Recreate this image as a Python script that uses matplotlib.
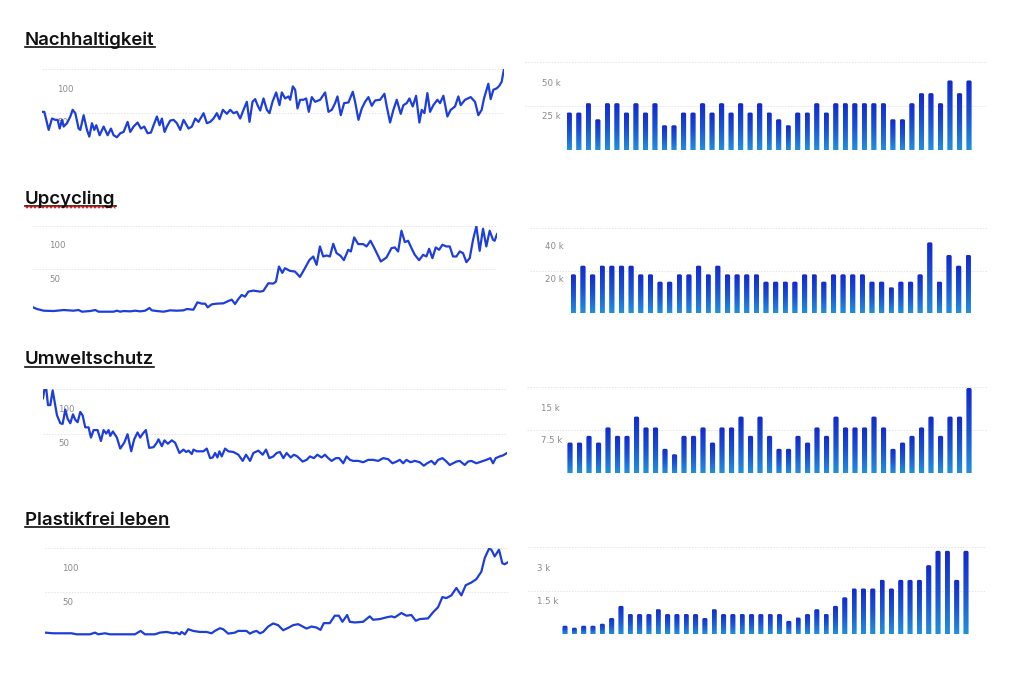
import matplotlib
matplotlib.use("Agg")
import matplotlib.pyplot as plt
import numpy as np
from matplotlib.colors import LinearSegmentedColormap
from matplotlib.lines import Line2D
from matplotlib.patches import FancyBboxPatch

W, H = 1024, 686

titles = ["Nachhaltigkeit", "Upcycling", "Umweltschutz", "Plastikfrei leben"]

# search interest over time (x = days since start of the window)
nach_t = [0, 7, 20, 30, 40, 47, 53, 60, 65, 75,
          85, 92, 100, 110, 115, 125, 135, 142, 150, 157,
          163, 173, 185, 197, 207, 215, 225, 235, 245, 257,
          265, 275, 287, 297, 307, 317, 327, 335, 345, 353,
          360, 368, 375, 385, 395, 405, 415, 425, 440, 450,
          460, 470, 485, 495, 505, 515, 525, 533, 543, 555,
          565, 575, 585, 595, 605, 615, 623, 632, 640, 647,
          655, 665, 675, 683, 692, 703, 713, 720, 730, 740,
          745, 753, 760, 767, 775, 785, 793, 801, 810, 820,
          835, 850, 860, 870, 880, 887, 897, 907, 920, 933,
          940, 950, 960, 970, 980, 990, 1000, 1015, 1028, 1035,
          1045, 1055, 1065, 1077, 1085, 1095, 1103, 1113, 1123, 1133,
          1140, 1148, 1157, 1165, 1175, 1187, 1195, 1205, 1217, 1227,
          1240, 1250, 1257, 1270, 1287, 1300, 1310, 1320, 1327, 1340,
          1347, 1355, 1365, 1373, 1380, 1387]
nach_v = [66, 66, 39, 56, 54, 54, 41, 54, 44, 49,
          59, 69, 64, 41, 39, 61, 39, 29, 49, 39,
          46, 31, 44, 31, 41, 31, 28, 34, 36, 51,
          36, 44, 50, 41, 44, 34, 35, 46, 59, 46,
          56, 36, 44, 53, 54, 49, 39, 54, 41, 44,
          56, 51, 64, 49, 51, 56, 64, 55, 69, 63,
          69, 64, 66, 56, 69, 81, 51, 81, 85, 76,
          68, 86, 69, 64, 81, 95, 76, 95, 86, 89,
          84, 104, 99, 71, 84, 84, 86, 66, 88, 81,
          84, 95, 66, 69, 79, 89, 61, 79, 80, 96,
          81, 54, 71, 81, 88, 75, 83, 84, 93, 74,
          50, 69, 84, 63, 76, 79, 86, 74, 90, 50,
          69, 64, 94, 66, 76, 84, 79, 90, 59, 69,
          74, 89, 76, 84, 88, 81, 61, 69, 86, 108,
          85, 99, 101, 105, 111, 130]

upc_t = [0, 12, 32, 62, 92, 122, 137, 147, 172, 187,
         197, 242, 252, 262, 272, 292, 307, 322, 337, 350,
         357, 372, 392, 412, 432, 452, 462, 482, 494, 507,
         517, 525, 537, 552, 572, 587, 597, 607, 617, 627,
         637, 647, 662, 682, 692, 707, 722, 730, 739, 749,
         757, 772, 787, 802, 817, 830, 842, 852, 862, 872,
         882, 892, 902, 912, 924, 934, 947, 955, 965, 977,
         992, 1002, 1014, 1027, 1045, 1062, 1077, 1087, 1097, 1107,
         1117, 1127, 1137, 1147, 1160, 1172, 1182, 1190, 1200, 1210,
         1220, 1230, 1242, 1252, 1262, 1272, 1282, 1292, 1302, 1312,
         1322, 1332, 1342, 1352, 1362, 1372, 1382, 1387, 1394]
upc_v = [8, 5.5, 3, 2.5, 4, 3, 4, 1.5, 2.5, 4,
         1.5, 1.5, 3, 1.5, 2.5, 2, 3, 2, 3, 7,
         3.5, 2.5, 1.5, 3.5, 3, 3.5, 5.5, 4.5, 15.5, 13.5,
         13.5, 8, 12.5, 13.5, 14, 17.5, 19.5, 13, 20.5, 26.5,
         24, 31.5, 33, 31.5, 32.5, 44, 43.5, 46.5, 69, 59.5,
         66.5, 62.5, 61.5, 53.5, 66.5, 78.5, 84, 71.5, 99, 84,
         85.5, 84, 103, 89, 85, 78.5, 94, 91.5, 112.5, 102.5,
         102.5, 99, 107.5, 95, 76.5, 82.5, 96.5, 97.5, 91.5, 122.5,
         105.5, 107.5, 96.5, 86.5, 78.5, 86.5, 84, 95.5, 81.5, 97.5,
         94, 101.5, 99, 99, 84, 84, 91.5, 89, 75.5, 81.5,
         109, 129, 92.5, 125.5, 99, 122.5, 109, 107.5, 117.5]

umw_t = [0, 5, 10, 15, 22, 29, 35, 42, 52, 59,
         67, 74, 82, 90, 97, 104, 112, 119, 127, 137,
         144, 152, 164, 174, 182, 190, 197, 202, 210, 222,
         232, 244, 254, 265, 274, 284, 292, 300, 309, 319,
         332, 342, 347, 357, 365, 375, 387, 397, 410, 422,
         430, 437, 447, 452, 462, 482, 492, 502, 510, 517,
         524, 530, 537, 547, 557, 572, 587, 600, 610, 622,
         632, 647, 660, 670, 680, 692, 702, 712, 722, 732,
         744, 754, 764, 780, 792, 802, 814, 824, 837, 847,
         857, 867, 880, 890, 902, 912, 922, 932, 947, 962,
         977, 992, 1007, 1022, 1037, 1050, 1062, 1072, 1082, 1092,
         1104, 1117, 1132, 1144, 1154, 1167, 1177, 1187, 1200, 1210,
         1222, 1232, 1242, 1252, 1267, 1277, 1287, 1302, 1317, 1332,
         1344, 1352, 1360, 1372, 1382, 1394]
umw_v = [116.5, 131.5, 129, 106.5, 106.5, 128, 111.5, 91.5, 80, 79,
         100, 86.5, 80, 93, 85, 81.5, 96.5, 91.5, 74, 74,
         59, 70, 70, 54, 70, 65, 70, 61.5, 68, 59,
         43, 51.5, 64, 39, 56.5, 66.5, 59, 65, 70, 44,
         45, 51.5, 56.5, 46.5, 55, 50, 55, 51.5, 36.5, 41.5,
         38, 40, 35, 41.5, 39, 39, 43, 29, 30, 36.5,
         30, 39, 31.5, 43, 39, 38, 34, 25, 34, 25,
         36.5, 40, 34, 41.5, 29, 31.5, 36.5, 38, 29, 36.5,
         30, 34, 31.5, 24, 26.5, 31.5, 29, 34, 30, 34,
         29, 25, 29, 29, 21.5, 31.5, 26.5, 25, 25, 23,
         26.5, 26.5, 25, 29, 27.5, 21.5, 24, 26.5, 21.5, 26.5,
         23, 25, 23, 18, 21.5, 25, 20, 26.5, 29, 25,
         19, 21.5, 24, 25, 19, 24, 25, 21.5, 24, 26.5,
         29, 21.5, 29, 31.5, 33, 36.5]

plast_t = [0, 25, 80, 95, 135, 150, 160, 180, 195, 270,
           287, 300, 330, 345, 365, 385, 395, 405, 410, 420,
           430, 445, 465, 485, 500, 510, 525, 535, 550, 570,
           580, 605, 615, 625, 635, 645, 655, 670, 685, 700,
           715, 730, 745, 760, 770, 785, 800, 815, 827, 837,
           855, 870, 882, 893, 907, 915, 930, 955, 975, 985,
           1005, 1025, 1040, 1050, 1070, 1085, 1100, 1113, 1125, 1150,
           1165, 1180, 1193, 1205, 1220, 1235, 1250, 1263, 1280, 1295,
           1310, 1320, 1333, 1340, 1350, 1363, 1373, 1380, 1390]
plast_v = [5, 4, 4, 2.5, 2.5, 5, 2.5, 4, 2.5, 2.5,
           7.5, 2.5, 2.5, 5, 6, 4, 5, 2.5, 6, 2.5,
           10, 7.5, 6, 6, 4, 7.5, 11.5, 10, 3.5, 5,
           7.5, 7.5, 3.5, 6, 7.5, 4, 6, 14, 18.5, 16,
           8.5, 12, 16, 17.5, 15, 11, 14, 12.5, 9, 19,
           19, 30, 30, 21, 31, 21, 20, 21, 29, 24,
           25, 27.5, 29, 27.5, 34, 30, 31, 22.5, 25, 26,
           35, 42.5, 57.5, 56, 60, 71, 60, 75, 79, 84,
           95, 115, 129, 127.5, 117.5, 127.5, 107.5, 106, 109]

line_ticks = [100, 50]
line_top = 130

# monthly search volume, in thousands
nach_bars = [28, 28, 35, 23, 35, 35, 28, 35, 28, 35,
             18.5, 18.5, 28, 28, 35, 28, 35, 28, 35, 28,
             35, 28, 23, 18.5, 28, 28, 35, 28, 35, 35,
             35, 35, 35, 35, 23, 23, 35, 42.5, 42.5, 35,
             52, 42.5, 52]
upc_bars = [23.4, 28.6, 23.4, 28.6, 28.6, 28.6, 28.6, 23.4, 23.4, 19,
            19, 23.4, 23.4, 28.6, 23.4, 28.6, 23.4, 23.4, 23.4, 23.4,
            19, 19, 19, 19, 23.4, 23.4, 19, 23.4, 23.4, 23.4,
            23.4, 19, 19, 15.6, 19, 19, 23.4, 42.6, 19, 35,
            28.6, 35]
umw_bars = [7.1, 7.1, 8.65, 7.1, 10.6, 8.65, 8.65, 13.1, 10.6, 10.6,
            5.65, 4.4, 8.65, 8.65, 10.6, 7.1, 10.6, 10.6, 13.1, 8.65,
            13.1, 8.65, 5.65, 5.65, 8.65, 7.1, 10.6, 8.65, 13.1, 10.6,
            10.6, 10.6, 13.1, 10.6, 5.65, 7.1, 8.65, 10.6, 13.1, 8.65,
            13.1, 13.1, 19.7]
plast_bars = [0.39, 0.30, 0.39, 0.39, 0.48, 0.74, 1.29, 0.92, 0.92, 0.92,
              1.14, 0.92, 0.92, 0.92, 0.92, 0.74, 1.14, 0.92, 0.92, 0.92,
              0.92, 0.92, 0.92, 0.92, 0.61, 0.76, 0.92, 1.14, 0.92, 1.29,
              1.68, 2.08, 2.08, 2.08, 2.47, 2.08, 2.47, 2.47, 2.47, 3.14,
              3.79, 3.79, 2.47, 3.79]

bar_ticks = [[50, 25], [40, 20], [15, 7.5], [3, 1.5]]
bar_tops = [66, 51.4, 20, 3.95]

lines = [(nach_t, nach_v), (upc_t, upc_v), (umw_t, umw_v), (plast_t, plast_v)]
bars = [nach_bars, upc_bars, umw_bars, plast_bars]

# layout in pixels: (left, top, right, bottom)
title_base = [45, 203.5, 364.5, 525]
line_boxes = [(42, 69, 504, 156), (33, 225.7, 497, 312.7),
              (43, 389, 507, 478), (45, 548, 508, 636)]
line_lab_dx = [15, 16, 15, 17]
bar_boxes = [(525, 61.7, 987, 150), (530, 227.7, 987, 313.3),
             (527, 386.7, 987, 473.3), (528, 547.3, 985, 634.3)]
bar_centers = [(569.3, 969), (573.3, 968.3), (570, 969), (565, 966)]
bar_lab_dx = [16.7, 15, 13.7, 8.7]

line_color = "#1d3ed8"
grid_color = "#e4e4e4"
label_color = "#8a8a8a"
bar_cmap = LinearSegmentedColormap.from_list("bar", ["#2290da", "#1a52d6", "#1229cc"])


def make_axes(fig, box):
    l, t, r, b = box
    ax = fig.add_axes([l / W, 1 - b / H, (r - l) / W, (b - t) / H])
    ax.set_axis_off()
    return ax


def draw_grid(ax, top):
    for y in [0, top / 2, top]:
        ax.axhline(y, color=grid_color, lw=0.7, ls=(0, (1.5, 1.5)), zorder=0)


def tick_labels(ax, ticks, dx, fmt):
    # labels sit inside the plot area like in the screenshot
    trans = matplotlib.transforms.offset_copy(
        matplotlib.transforms.blended_transform_factory(ax.transAxes, ax.transData),
        fig=ax.figure, x=dx * 72 / 100, y=0, units="points")
    for v in ticks:
        ax.text(0, v, fmt(v), transform=trans, ha="left", va="center",
                fontsize=6.2, color=label_color, fontweight="medium", zorder=1)


def gradient_bars(ax, vals, box, centers):
    n = len(vals)
    l, t, r, b = box
    step = (centers[1] - centers[0]) / (n - 1)
    ax.set_xlim((l - centers[0]) / step, (n - 1) + (r - centers[1]) / step)
    px_x = step
    px_y = (b - t) / ax.get_ylim()[1]
    rad = 1.6 / px_x
    grad = np.linspace(0, 1, 128).reshape(-1, 1)
    rects = ax.bar(np.arange(n), vals, width=0.55, color="none", edgecolor="none")
    for rect in rects:
        x0, w, h = rect.get_x(), rect.get_width(), rect.get_height()
        # shape reaches below the baseline so only the top corners look round
        below = 4 / px_y
        shape = FancyBboxPatch((x0, -below), w, h + below,
                               boxstyle="round,pad=0,rounding_size=%f" % rad,
                               mutation_aspect=px_x / px_y,
                               fc="none", ec="none")
        ax.add_patch(shape)
        im = ax.imshow(grad, cmap=bar_cmap, origin="lower", aspect="auto",
                       extent=(x0, x0 + w, 0, h), zorder=3, interpolation="bilinear")
        im.set_clip_path(shape)


fig = plt.figure(figsize=(W / 100, H / 100), dpi=100)
fig.patch.set_facecolor("white")

title_texts = []
for i in range(4):
    # line chart on the left
    ax = make_axes(fig, line_boxes[i])
    t, v = lines[i]
    ax.set_xlim(min(t), max(t))
    ax.set_ylim(0, line_top)
    draw_grid(ax, line_top)
    ax.plot(t, v, color=line_color, lw=1.6, solid_joinstyle="round", zorder=2)
    tick_labels(ax, line_ticks, line_lab_dx[i], lambda x: "%g" % x)

    # bar chart on the right
    bx = make_axes(fig, bar_boxes[i])
    bx.set_ylim(0, bar_tops[i])
    draw_grid(bx, bar_tops[i])
    gradient_bars(bx, bars[i], bar_boxes[i], bar_centers[i])
    bx.set_ylim(0, bar_tops[i])
    tick_labels(bx, bar_ticks[i], bar_lab_dx[i], lambda x: "%g k" % x)

    # section title
    tt = fig.text(25 / W, 1 - title_base[i] / H, titles[i], fontsize=13.4,
                  family=["Inter", "DejaVu Sans"], fontweight="semibold",
                  color="#111111", va="baseline", ha="left")
    title_texts.append(tt)

# underline the titles
fig.canvas.draw()
renderer = fig.canvas.get_renderer()
for i, tt in enumerate(title_texts):
    bb = tt.get_window_extent(renderer)
    y = title_base[i] + 2
    fig.add_artist(Line2D([bb.x0 / W, bb.x1 / W], [1 - y / H, 1 - y / H],
                          color="#111111", lw=1.2, transform=fig.transFigure))
    if titles[i] == "Upcycling":
        # spell-check squiggle
        xs = np.arange(bb.x0, bb.x1, 2.0)
        ys = y + 1.5 + np.where(np.arange(len(xs)) % 2 == 0, -1.0, 1.0)
        fig.add_artist(Line2D(xs / W, 1 - ys / H, color="#e02020", lw=0.8,
                              transform=fig.transFigure))

fig.savefig("out.png", dpi=100, facecolor="white")
